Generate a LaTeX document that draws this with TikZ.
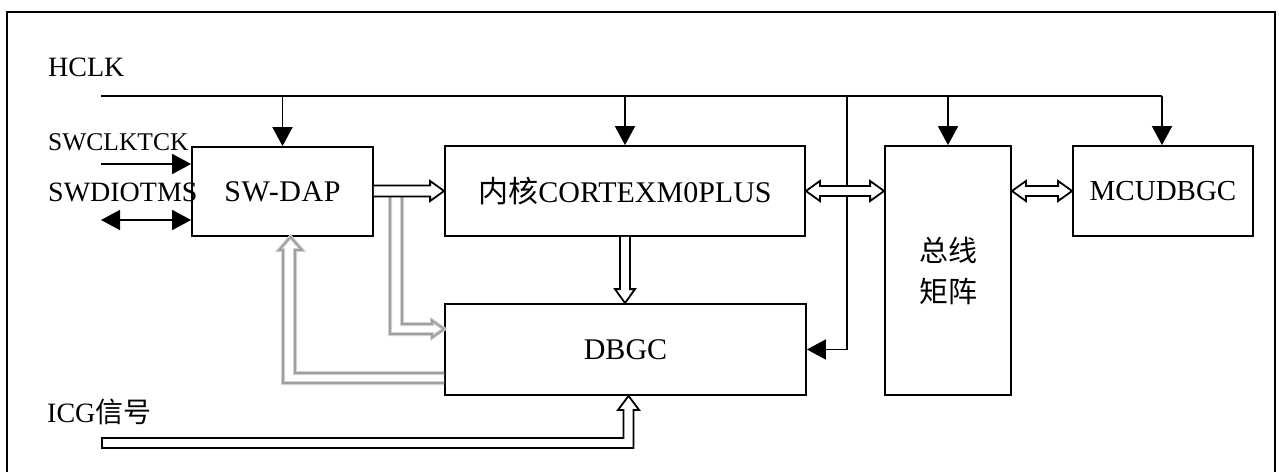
\documentclass[tikz,border=0pt]{standalone}
\usepackage{fontspec}
\setmainfont{Liberation Serif}
\newfontfamily\cjk{Noto Sans CJK SC}
\usetikzlibrary{arrows.meta,calc}
\begin{document}
\begin{tikzpicture}[x=1pt,y=-1pt,
  box/.style={draw,line width=1.8pt,inner sep=0pt,font=\fontsize{30}{36}\selectfont},
  sig/.style={line width=1.8pt,-{Triangle[length=19pt,width=20pt]}},
  sigboth/.style={line width=1.8pt,{Triangle[length=19pt,width=20pt]}-{Triangle[length=19pt,width=20pt]}},
  hollow/.style={draw=black,fill=white,line width=1.8pt,line join=miter},
  grayhalo/.style={draw=gray!35,line width=4pt,fill=white},
  grayline/.style={draw=gray!75,line width=1.8pt},
  lbl/.style={anchor=west,inner sep=0pt,font=\fontsize{28}{34}\selectfont}]
\useasboundingbox (0,0) rectangle (1279,471);
% frame
\draw[line width=1.4pt] (7,471.5) -- (7,12) -- (1275,12) -- (1275,471.5);
% boxes
\node[box,minimum width=181pt,minimum height=89pt] (sw) at (282.5,191.5) {\addfontfeatures{LetterSpace=2}SW-DAP};
\node[box,minimum width=360pt,minimum height=90pt] (core) at (625,191) {{\cjk 内核}CORTEXM0PLUS};
\node[box,minimum width=361pt,minimum height=91pt] (dbgc) at (625.5,349.5) {DBGC};
\node[box,minimum width=126pt,minimum height=249pt,align=center,font=\fontsize{29}{41}\selectfont\cjk] (bus) at (948,270.5) {总线\\矩阵};
\node[box,minimum width=180pt,minimum height=90pt,font=\fontsize{29}{34}\selectfont] (mcu) at (1163,191) {MCUDBGC};
% labels
\node[lbl] (hclk) at (48,67) {HCLK};
\node[lbl,font=\fontsize{25.5}{30}\selectfont] (swclk) at (48,142) {SWCLKTCK};
\node[lbl] (swdio) at (48,192) {SWDIOTMS};
\node[lbl] (icg) at (47,412) {ICG{\cjk 信号}};
% HCLK distribution
\coordinate (h0) at (101,96);
\coordinate (hend) at (1162,96);
\coordinate (hdbg) at (847,96);
\draw[line width=1.8pt] (h0) -- (hend);
\draw[sig] (sw.north |- h0) -- (sw.north);
\draw[sig] (core.north |- h0) -- (core.north);
\draw[sig] (bus.north |- h0) -- (bus.north);
\draw[sig] (hend) -- (hend |- mcu.north);
\draw[sig] (hdbg) -- (hdbg |- dbgc.east) -- (dbgc.east);
% SW inputs
\coordinate (c0) at (101,164);
\coordinate (d0) at (101,220);
\draw[sig] (c0) -- (c0 -| sw.west);
\draw[sigboth] (d0) -- (d0 -| sw.west);
% gray SW-DAP -> DBGC
\draw[grayhalo] (390,195) -- (390,334) -- (432,334) -- (432,337.5) -- (dbgc.west |- 0,329) -- (432,320.5) -- (432,324) -- (402,324) -- (402,195);
\draw[grayline] (390,195) -- (390,334) -- (432,334) -- (432,337.5) -- (dbgc.west |- 0,329) -- (432,320.5) -- (432,324) -- (402,324) -- (402,195);
% gray DBGC -> SW-DAP feedback
\draw[grayhalo] (dbgc.west |- 0,383) -- (283,383) -- (283,250) -- (279,250) -- (sw.south -| 290.5,0) -- (302,250) -- (295,250) -- (295,373) -- (dbgc.west |- 0,373);
\draw[grayline] (dbgc.west |- 0,383) -- (283,383) -- (283,250) -- (279,250) -- (sw.south -| 290.5,0) -- (302,250) -- (295,250) -- (295,373) -- (dbgc.west |- 0,373);
% SW-DAP -> core hollow
\draw[hollow] (sw.east |- 0,185.5) -- ($(core.west)+(-14,-5.5)$) -- ($(core.west)+(-14,-10)$) -- (core.west) -- ($(core.west)+(-14,10)$) -- ($(core.west)+(-14,5.5)$) -- (sw.east |- 0,196.5);
% core <-> bus
\draw[hollow] (core.east) -- ($(core.east)+(14,-10)$) -- ($(core.east)+(14,-5)$) -- ($(bus.west |- core.east)+(-14,-5)$) -- ($(bus.west |- core.east)+(-14,-10)$) -- (bus.west |- core.east) -- ($(bus.west |- core.east)+(-14,10)$) -- ($(bus.west |- core.east)+(-14,5)$) -- ($(core.east)+(14,5)$) -- ($(core.east)+(14,10)$) -- cycle;
% bus <-> mcu
\draw[hollow] (bus.east |- mcu.west) -- ($(bus.east |- mcu.west)+(14,-10)$) -- ($(bus.east |- mcu.west)+(14,-5)$) -- ($(mcu.west)+(-14,-5)$) -- ($(mcu.west)+(-14,-10)$) -- (mcu.west) -- ($(mcu.west)+(-14,10)$) -- ($(mcu.west)+(-14,5)$) -- ($(bus.east |- mcu.west)+(14,5)$) -- ($(bus.east |- mcu.west)+(14,10)$) -- cycle;
% core -> dbgc
\draw[hollow] ($(core.south)+(-5,0)$) -- ($(dbgc.north)+(-5.5,-14)$) -- ($(dbgc.north)+(-10.5,-14)$) -- (dbgc.north -| core.south) -- ($(dbgc.north)+(9.5,-14)$) -- ($(dbgc.north)+(4.5,-14)$) -- ($(core.south)+(5,0)$);
% ICG -> dbgc
\coordinate (itip) at ($(dbgc.south)+(3,0)$);
\coordinate (i0) at (102,443);
\draw[hollow] ($(i0)+(0,-5)$) -- ($(itip |- i0)+(-5,-5)$) -- ($(itip)+(-5,14)$) -- ($(itip)+(-10.5,14)$) -- (itip) -- ($(itip)+(10.5,14)$) -- ($(itip)+(5,14)$) -- ($(itip |- i0)+(5,5)$) -- ($(i0)+(0,5)$) -- cycle;
\end{tikzpicture}
\end{document}
